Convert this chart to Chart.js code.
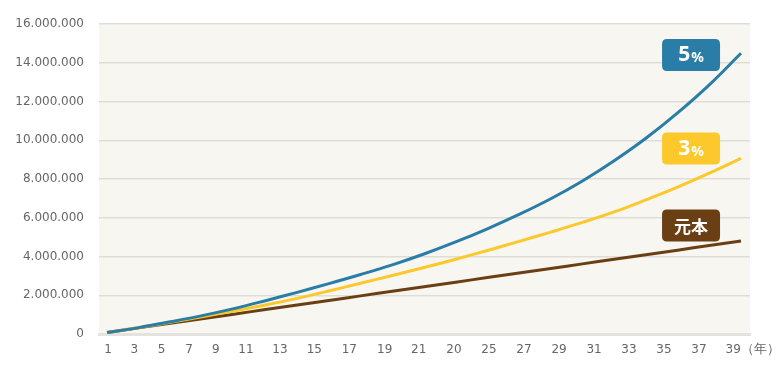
<!DOCTYPE html>
<html><head><meta charset="utf-8">
<script src="https://cdn.jsdelivr.net/npm/chart.js@4.4.0/dist/chart.umd.min.js"></script>
<style>html,body{margin:0;padding:0;background:#fff;}#wrap{width:784px;height:379px;}</style>
</head><body><div id="wrap"><canvas id="c" width="784" height="379"></canvas></div>
<script>
// Data (years since start, values in yen)
const years = [0,2,4,6,8,10,12,14,16,18,20,22,24,26,28,30,32,34,36,38,40];
const principal = [80000,316000,552000,788000,1024000,1260000,1496000,1732000,1968000,2204000,2440000,2676000,2912000,3148000,3384000,3620000,3856000,4092000,4328000,4564000,4800000];
const rate3 = [80000,330000,600000,890000,1190000,1500000,1840000,2220000,2620000,3020000,3430000,3860000,4310000,4780000,5260000,5760000,6300000,6920000,7580000,8300000,9070000];
const rate5 = [80000,330000,630000,950000,1310000,1720000,2150000,2600000,3070000,3570000,4130000,4750000,5430000,6170000,6980000,7900000,8940000,10100000,11410000,12860000,14490000];
const xTickLabels = ['1','3','5','7','9','11','13','15','17','19','21','20','25','27','29','31','33','35','37','39'];
const seriesNames = ['5%','3%','元本'];
const unitLabel = '（年）';

const colors = {blue:'#2a7da6', yellow:'#fcc82c', brown:'#6a3f14'};
const pts = arr => years.map((t,i)=>({x:t,y:arr[i]}));
const fmt = v => String(v).replace(/\B(?=(\d{3})+(?!\d))/g,'.');

const decor = {
  id:'decor',
  beforeDraw(chart){
    const {ctx, chartArea:a} = chart;
    ctx.save();
    ctx.fillStyle = '#f7f6f1';
    ctx.fillRect(a.left, a.top, a.right-a.left, a.bottom-a.top);
    ctx.restore();
  },
  afterDraw(chart){
    const {ctx, chartArea:a, scales} = chart;
    ctx.save();
    ctx.fillStyle = '#666';
    ctx.font = '13px "DejaVu Sans", sans-serif';
    ctx.textAlign = 'center'; ctx.textBaseline = 'middle';
    ctx.fillText(unitLabel, a.right + 10, 350);
    const boxes = [
      {t:36.85, v:14400000, c:colors.blue, name:seriesNames[0]},
      {t:36.85, v:9570000, c:colors.yellow, name:seriesNames[1]},
      {t:36.85, v:5600000, c:colors.brown, name:seriesNames[2]}
    ];
    const w = 58, h = 32, r = 5;
    boxes.forEach(b=>{
      const cx = scales.x.getPixelForValue(b.t), cy = scales.y.getPixelForValue(b.v);
      const x = cx - w/2, y = cy - h/2;
      ctx.beginPath();
      ctx.moveTo(x+r,y); ctx.lineTo(x+w-r,y); ctx.quadraticCurveTo(x+w,y,x+w,y+r);
      ctx.lineTo(x+w,y+h-r); ctx.quadraticCurveTo(x+w,y+h,x+w-r,y+h);
      ctx.lineTo(x+r,y+h); ctx.quadraticCurveTo(x,y+h,x,y+h-r);
      ctx.lineTo(x,y+r); ctx.quadraticCurveTo(x,y,x+r,y); ctx.closePath();
      ctx.fillStyle = b.c; ctx.fill();
      ctx.fillStyle = '#fff';
      ctx.textBaseline = 'middle';
      if (b.name.endsWith('%')) {
        const num = b.name.slice(0,-1);
        ctx.font = 'bold 21px "Noto Sans", sans-serif';
        const w1 = ctx.measureText(num).width;
        ctx.font = 'bold 14px "Noto Sans", sans-serif';
        const w2 = ctx.measureText('%').width;
        const sx = cx - (w1+w2+1)/2;
        ctx.textAlign = 'left';
        ctx.font = 'bold 21px "Noto Sans", sans-serif';
        ctx.fillText(num, sx, cy);
        ctx.font = 'bold 14px "Noto Sans", sans-serif';
        ctx.fillText('%', sx + w1 + 1, cy + 3);
      } else {
        ctx.textAlign = 'center';
        ctx.font = 'bold 17px "Noto Sans CJK JP", sans-serif';
        ctx.fillText(b.name, cx, cy + 1);
      }
    });
    ctx.restore();
  }
};

const tickFont = {family:'"DejaVu Sans", sans-serif', size:12};

new Chart(document.getElementById('c'), {
  type:'line',
  data:{ datasets:[
    {label:seriesNames[0], data:pts(rate5), borderColor:colors.blue, borderWidth:3, pointRadius:0, tension:0.4, fill:false},
    {label:seriesNames[1], data:pts(rate3), borderColor:colors.yellow, borderWidth:3, pointRadius:0, tension:0.4, fill:false},
    {label:seriesNames[2], data:pts(principal), borderColor:colors.brown, borderWidth:3, pointRadius:0, tension:0.4, fill:false}
  ]},
  options:{
    responsive:false, animation:false,
    layout:{padding:{left:0, top:24, right:34, bottom:0}},
    plugins:{legend:{display:false}, tooltip:{enabled:false}},
    scales:{
      x:{ type:'linear', min:-0.505, max:40.57,
        afterBuildTicks:s=>{ s.ticks=[0.06,1.72,3.45,5.17,6.86,8.77,10.91,13.08,15.29,17.52,19.67,21.89,24.10,26.31,28.52,30.73,32.93,35.14,37.35,39.51].map(v=>({value:v})); },
        afterFit:s=>{ s.height = 45; },
        grid:{display:false, drawTicks:false},
        border:{display:true, color:'#e4e3e0', width:3},
        ticks:{autoSkip:false, maxRotation:0, padding:9, color:'#666', font:tickFont, callback:(v,i)=>xTickLabels[i]}
      },
      y:{ min:0, max:16000000,
        afterFit:s=>{ s.width = 99; },
        grid:{color:'#dfddd8', lineWidth:1.5, drawTicks:false},
        border:{display:false},
        ticks:{stepSize:2000000, padding:15, color:'#666', font:tickFont, callback:v=>fmt(v)}
      }
    }
  },
  plugins:[decor]
});
</script>
</body></html>
